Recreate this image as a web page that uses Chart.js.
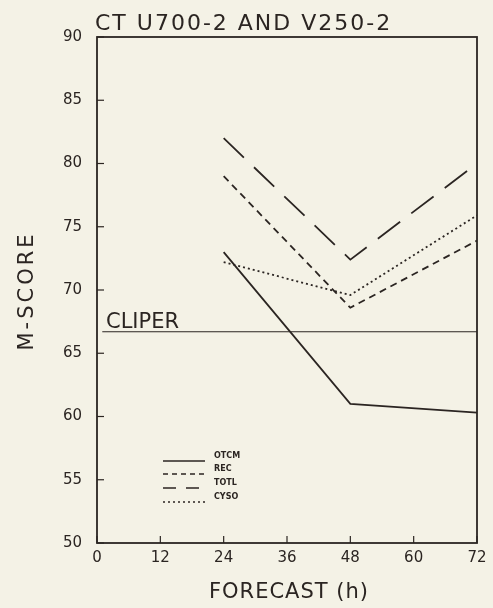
<!DOCTYPE html>
<html>
<head>
<meta charset="utf-8">
<script src="https://cdn.jsdelivr.net/npm/chart.js@4.4.0/dist/chart.umd.min.js"></script>
<style>
  html, body { margin: 0; padding: 0; background: #f4f2e6; }
  #wrap { width: 493px; height: 608px; }
</style>
</head>
<body>
<div id="wrap"><canvas id="chart"></canvas></div>
<script>
const hours = [24, 48, 72];
const otcm = [73, 61, 60.3];
const rec = [79, 68.6, 73.9];
const totl = [82, 72.4, 80];
const cyso = [72.2, 69.6, 75.9];
const cliperHours = [1, 72];
const cliper = [66.7, 66.7];
const xTicks = [0, 12, 24, 36, 48, 60, 72];
const yTicks = [50, 55, 60, 65, 70, 75, 80, 85, 90];

const ink = '#2b2522';
const pts = (xs, ys) => xs.map((x, i) => ({ x: x, y: ys[i] }));

const series = [
  { label: 'OTCM', data: pts(hours, otcm), dash: [], legendDash: [] },
  { label: 'REC', data: pts(hours, rec), dash: [7, 5], legendDash: [5, 4] },
  { label: 'TOTL', data: pts(hours, totl), dash: [28, 14], legendDash: [13, 10] },
  { label: 'CYSO', data: pts(hours, cyso), dash: [2, 3], legendDash: [2, 3] }
];

const datasets = series.map(s => ({
  label: s.label,
  data: s.data,
  borderColor: ink,
  borderWidth: 1.8,
  borderDash: s.dash,
  pointRadius: 0,
  tension: 0,
  fill: false
}));
datasets.push({
  label: 'CLIPER',
  data: pts(cliperHours, cliper),
  borderColor: ink,
  borderWidth: 1.2,
  pointRadius: 0,
  fill: false
});

const frame = {
  id: 'frame',
  beforeDraw(chart) {
    const c = chart.ctx;
    c.save();
    c.fillStyle = '#f4f2e6';
    c.fillRect(0, 0, chart.width, chart.height);
    c.restore();
  },
  afterDraw(chart) {
    const c = chart.ctx, a = chart.chartArea;
    const xs = chart.scales.x, ys = chart.scales.y;
    c.save();
    c.strokeStyle = ink;
    c.lineWidth = 1.8;
    c.strokeRect(a.left, a.top, a.right - a.left, a.bottom - a.top);
    c.lineWidth = 1.2;
    yTicks.forEach(v => {
      const y = ys.getPixelForValue(v);
      c.beginPath(); c.moveTo(a.left, y); c.lineTo(a.left + 7, y); c.stroke();
    });
    xTicks.forEach(v => {
      const x = xs.getPixelForValue(v);
      c.beginPath(); c.moveTo(x, a.bottom); c.lineTo(x, a.bottom - 7); c.stroke();
    });
    c.fillStyle = ink;
    c.textBaseline = 'alphabetic';
    // title
    c.letterSpacing = '2px';
    c.font = '22px "DejaVu Sans"';
    c.textAlign = 'left';
    c.fillText('CT U700-2 AND V250-2', 95, 30);
    // axis titles
    c.font = '21px "DejaVu Sans"';
    c.letterSpacing = '1px';
    c.textAlign = 'center';
    c.fillText('FORECAST (h)', 289, 598);
    c.save();
    c.translate(33, 291);
    c.rotate(-Math.PI / 2);
    c.letterSpacing = '3px';
    c.fillText('M-SCORE', 0, 0);
    c.restore();
    // CLIPER label
    c.letterSpacing = '0px';
    c.textAlign = 'left';
    c.font = '21px "DejaVu Sans"';
    c.fillText('CLIPER', xs.getPixelForValue(1.7), ys.getPixelForValue(cliper[0]) - 4);
    // legend
    const rowY = [461, 474, 488, 502];
    c.font = 'bold 8px "DejaVu Sans"';
    series.forEach((s, i) => {
      c.setLineDash(s.legendDash);
      c.lineWidth = 1.6;
      c.beginPath(); c.moveTo(163, rowY[i]); c.lineTo(205, rowY[i]); c.stroke();
      c.setLineDash([]);
      c.fillText(s.label, 214, rowY[i] - 3);
    });
    c.restore();
  }
};

new Chart(document.getElementById('chart'), {
  type: 'line',
  data: { datasets: datasets },
  plugins: [frame],
  options: {
    responsive: true,
    maintainAspectRatio: false,
    animation: false,
    layout: { padding: { top: 37, right: 16, left: 0, bottom: 0 } },
    plugins: { legend: { display: false }, tooltip: { enabled: false } },
    scales: {
      x: {
        type: 'linear',
        min: 0, max: 72,
        afterBuildTicks: s => { s.ticks = xTicks.map(v => ({ value: v })); },
        afterFit: s => { s.height = 65; },
        grid: { display: false, drawTicks: false },
        border: { display: false },
        ticks: { color: ink, padding: 6, font: { family: 'DejaVu Sans', size: 15 } }
      },
      y: {
        min: 50, max: 90,
        afterBuildTicks: s => { s.ticks = yTicks.map(v => ({ value: v })); },
        afterFit: s => { s.width = 97; },
        grid: { display: false, drawTicks: false },
        border: { display: false },
        ticks: { color: ink, padding: 15, font: { family: 'DejaVu Sans', size: 15 } }
      }
    }
  }
});
</script>
</body>
</html>
